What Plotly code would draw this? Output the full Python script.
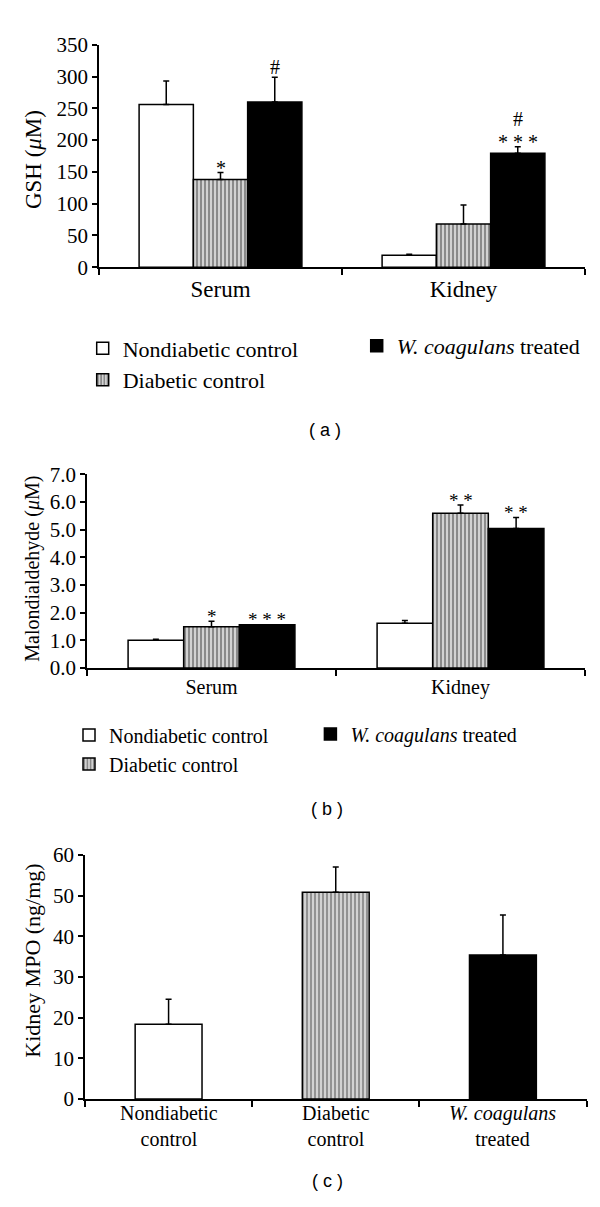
import plotly.graph_objects as go

# page is 600x1207; the html body adds an 8px margin, so the figure is 16px smaller
PAGE_W, PAGE_H, BODY = 600, 1207, 8
W, H = PAGE_W - 2 * BODY, PAGE_H - 2 * BODY
SERIF = "Liberation Serif, Times New Roman, serif"
SANS = "Liberation Sans, Arial, sans-serif"

"""Data"""
series_names = ["Nondiabetic control", "Diabetic control", "<i>W. coagulans</i> treated"]

# (a) GSH
gsh_groups = ["Serum", "Kidney"]
gsh_nondiabetic = [256, 19]
gsh_nondiabetic_err = [37, 1.5]
gsh_diabetic = [138, 68]
gsh_diabetic_err = [11, 30]
gsh_treated = [260, 179.5]
gsh_treated_err = [39, 10]
gsh_diabetic_sig = [["*"], []]
gsh_treated_sig = [["#"], ["* * *", "#"]]

# (b) malondialdehyde
mda_groups = ["Serum", "Kidney"]
mda_nondiabetic = [1.0, 1.62]
mda_nondiabetic_err = [0.04, 0.1]
mda_diabetic = [1.49, 5.59]
mda_diabetic_err = [0.2, 0.3]
mda_treated = [1.56, 5.04]
mda_treated_err = [0.0, 0.4]
mda_diabetic_sig = [["*"], ["* *"]]
mda_treated_sig = [["* * *"], ["* *"]]

# (c) kidney MPO
mpo_groups = ["Nondiabetic control", "Diabetic control", "W. coagulans treated"]
mpo_labels = ["Nondiabetic<br>control", "Diabetic<br>control", "<i>W. coagulans</i><br>treated"]
mpo_values = [18.4, 50.8, 35.4]
mpo_err = [6.1, 6.2, 9.8]

"""Styles"""
fill_colors = ["white", "#d2d2d2", "black"]
pattern_shapes = ["", "|", ""]
pattern_fg = ["white", "#333333", "black"]
BARGAP = 0.33


def px(x):
    return (x - BODY) / W


def py(y):
    return 1 - (y - BODY) / H


def marker_for(i):
    return dict(
        color=fill_colors[i],
        line=dict(color="black", width=1.5),
        pattern=dict(shape=pattern_shapes[i], fgcolor=pattern_fg[i],
                     bgcolor=fill_colors[i], size=4, solidity=0.45),
    )


def err(arr):
    return dict(type="data", symmetric=False, array=arr, arrayminus=[0] * len(arr),
                color="black", thickness=1.5, width=3)


fig = go.Figure()
annotations = []


def grouped_panel(groups, vals, errs, sigs, xa, ya, legends, sig_size):
    n = len(vals)
    bw = (1 - BARGAP) / n
    for i in range(n):
        fig.add_trace(go.Bar(
            x=groups, y=vals[i], name=series_names[i], marker=marker_for(i),
            error_y=err(errs[i]), xaxis=xa, yaxis=ya, legend=legends[i],
        ))
        if sigs[i] is None:
            continue
        for gi, marks in enumerate(sigs[i]):
            for k, m in enumerate(marks):
                annotations.append(dict(
                    x=gi + (i - (n - 1) / 2) * bw, y=vals[i][gi] + errs[i][gi],
                    xref=xa, yref=ya, text=m, showarrow=False,
                    xanchor="center", yanchor="middle",
                    yshift=(5 if "*" in m else 10) + 18 * k,
                    font=dict(family=SERIF, size=sig_size, color="black"),
                ))


grouped_panel(gsh_groups, [gsh_nondiabetic, gsh_diabetic, gsh_treated],
              [gsh_nondiabetic_err, gsh_diabetic_err, gsh_treated_err],
              [None, gsh_diabetic_sig, gsh_treated_sig], "x", "y",
              ["legend", "legend", "legend2"], 20)
grouped_panel(mda_groups, [mda_nondiabetic, mda_diabetic, mda_treated],
              [mda_nondiabetic_err, mda_diabetic_err, mda_treated_err],
              [None, mda_diabetic_sig, mda_treated_sig], "x2", "y2",
              ["legend3", "legend3", "legend4"], 19)

fig.add_trace(go.Bar(
    x=mpo_groups, y=mpo_values, width=0.4, showlegend=False,
    marker=dict(color=fill_colors, line=dict(color="black", width=1.5),
                pattern=dict(shape=pattern_shapes, fgcolor=pattern_fg,
                             bgcolor=fill_colors, size=4, solidity=0.45)),
    error_y=err(mpo_err), xaxis="x3", yaxis="y3",
))
for g, t in zip(mpo_groups, mpo_labels):
    annotations.append(dict(
        x=g, y=py(1110), xref="x3", yref="paper", text=t, showarrow=False,
        xanchor="center", yanchor="top",
        font=dict(family=SERIF, size=20, color="black"),
    ))

# y axis titles and panel letters
for text, x, y, size in [
    ("GSH (<i>μ</i>M)", 33, 151, 23),
    ("Malondialdehyde (<i>μ</i>M)", 33, 568, 20),
    ("Kidney MPO (ng/mg)", 33, 968, 22),
]:
    annotations.append(dict(x=px(x), y=py(y), xref="paper", yref="paper", text=text,
                            textangle=-90, showarrow=False, xanchor="center", yanchor="middle",
                            font=dict(family=SERIF, size=size, color="black")))
for text, x, y in [("( a )", 325, 426), ("( b )", 327, 813), ("( c )", 327, 1193)]:
    annotations.append(dict(x=px(x), y=py(y), xref="paper", yref="paper", text=text,
                            showarrow=False, xanchor="center", yanchor="middle",
                            font=dict(family=SANS, size=18, color="black")))

axis_common = dict(showline=True, linecolor="black", linewidth=1.5, ticks="outside",
                   tickcolor="black", tickwidth=1.5, showgrid=False, zeroline=False)


def legend_at(x, y, size):
    return dict(x=px(x), y=py(y), xanchor="left", yanchor="middle",
                font=dict(family=SERIF, size=size, color="black"),
                bgcolor="rgba(0,0,0,0)", tracegroupgap=0)


fig.update_layout(
    width=W, height=H, margin=dict(l=0, r=0, t=0, b=0),
    paper_bgcolor="white", plot_bgcolor="white",
    barmode="group", bargap=BARGAP, bargroupgap=0,
    font=dict(family=SERIF, color="black"),
    xaxis=dict(axis_common, domain=[px(99), px(585)], anchor="y", tickson="boundaries",
               ticklen=6, tickfont=dict(size=23)),
    yaxis=dict(axis_common, domain=[py(260.3), py(33.3)], anchor="x", range=[0, 350],
               dtick=50, ticklen=5, tickfont=dict(size=21)),
    xaxis2=dict(axis_common, domain=[px(87), px(585)], anchor="y2", tickson="boundaries",
                ticklen=6, tickfont=dict(size=20)),
    yaxis2=dict(axis_common, domain=[py(669.3), py(471.7)], anchor="x2", range=[0, 7],
                dtick=1, tickformat=".1f", ticklen=5, tickfont=dict(size=21)),
    xaxis3=dict(axis_common, domain=[px(85), px(586.5)], anchor="y3", tickson="boundaries",
                ticklen=6, showticklabels=False),
    yaxis3=dict(axis_common, domain=[py(1109.3), py(860)], anchor="x3", range=[0, 60],
                dtick=10, ticklen=5, tickfont=dict(size=21)),
    legend=legend_at(82.7, 359.5, 22),
    legend2=legend_at(356.7, 340.7, 22),
    legend3=legend_at(69, 752.5, 20),
    legend4=legend_at(310.4, 736.7, 20),
    annotations=annotations,
)

fig.write_html("out.html")
